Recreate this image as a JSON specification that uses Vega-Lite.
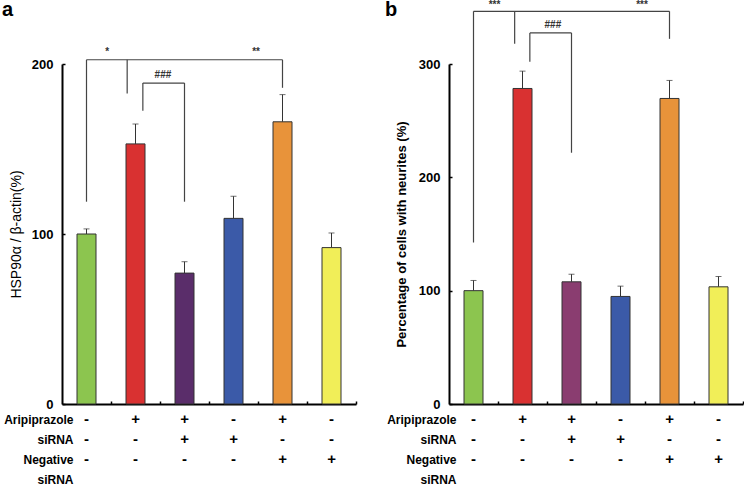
{
  "$schema": "https://vega.github.io/schema/vega-lite/v6.json",
  "padding": {"left": 2, "top": 0, "right": 0, "bottom": 0},
  "background": "white",
  "config": {"font": "Liberation Sans", "view": {"stroke": null}},
  "datasets": {
    "barsA": [
      {"pos": 1, "v": 100, "e": 103},
      {"pos": 2, "v": 153, "e": 164.7},
      {"pos": 3, "v": 77, "e": 83.7},
      {"pos": 4, "v": 109.2, "e": 122.2},
      {"pos": 5, "v": 166, "e": 182},
      {"pos": 6, "v": 92, "e": 100.6}
    ],
    "barsB": [
      {"pos": 1, "v": 100, "e": 109},
      {"pos": 2, "v": 278.4, "e": 293.7},
      {"pos": 3, "v": 107.8, "e": 114.5},
      {"pos": 4, "v": 94.9, "e": 104},
      {"pos": 5, "v": 269.6, "e": 285.5},
      {"pos": 6, "v": 103.4, "e": 112.5}
    ],
    "brA": [
      {"x1": 1, "x2": 5, "y1": 202.5, "y2": 202.5},
      {"x1": 1, "x2": 1, "y1": 119, "y2": 202.5},
      {"x1": 1.83, "x2": 1.83, "y1": 182.7, "y2": 202.5},
      {"x1": 5, "x2": 5, "y1": 186, "y2": 202.5},
      {"x1": 2.15, "x2": 3, "y1": 188.8, "y2": 188.8},
      {"x1": 2.15, "x2": 2.15, "y1": 172.5, "y2": 188.8},
      {"x1": 3, "x2": 3, "y1": 119, "y2": 188.8}
    ],
    "brB": [
      {"x1": 1, "x2": 5, "y1": 346.5, "y2": 346.5},
      {"x1": 1, "x2": 1, "y1": 142.5, "y2": 346.5},
      {"x1": 1.84, "x2": 1.84, "y1": 317.8, "y2": 346.5},
      {"x1": 5, "x2": 5, "y1": 322.2, "y2": 346.5},
      {"x1": 2.15, "x2": 3, "y1": 327.4, "y2": 327.4},
      {"x1": 2.15, "x2": 2.15, "y1": 302, "y2": 327.4},
      {"x1": 3, "x2": 3, "y1": 221.7, "y2": 327.4}
    ],
    "labA": [
      {"x": 1.42, "y": 207, "t": "*"},
      {"x": 4.46, "y": 207, "t": "**"},
      {"x": 2.56, "y": 193.5, "t": "###"}
    ],
    "labB": [
      {"x": 1.43, "y": 352, "t": "***"},
      {"x": 4.44, "y": 352, "t": "***"},
      {"x": 2.62, "y": 334, "t": "###"}
    ],
    "signs": [
      {"pos": 1, "row": "Aripiprazole", "s": "-"},
      {"pos": 2, "row": "Aripiprazole", "s": "+"},
      {"pos": 3, "row": "Aripiprazole", "s": "+"},
      {"pos": 4, "row": "Aripiprazole", "s": "-"},
      {"pos": 5, "row": "Aripiprazole", "s": "+"},
      {"pos": 6, "row": "Aripiprazole", "s": "-"},
      {"pos": 1, "row": "siRNA", "s": "-"},
      {"pos": 2, "row": "siRNA", "s": "-"},
      {"pos": 3, "row": "siRNA", "s": "+"},
      {"pos": 4, "row": "siRNA", "s": "+"},
      {"pos": 5, "row": "siRNA", "s": "-"},
      {"pos": 6, "row": "siRNA", "s": "-"},
      {"pos": 1, "row": "Negative", "s": "-"},
      {"pos": 2, "row": "Negative", "s": "-"},
      {"pos": 3, "row": "Negative", "s": "-"},
      {"pos": 4, "row": "Negative", "s": "-"},
      {"pos": 5, "row": "Negative", "s": "+"},
      {"pos": 6, "row": "Negative", "s": "+"}
    ]
  },
  "columns": 2,
  "spacing": {"row": 15, "column": 93},
  "bounds": "flush",
  "resolve": {"scale": {"color": "independent", "x": "independent", "y": "independent"}},
  "concat": [
    {
      "width": 294,
      "height": 340,
      "title": {"text": "a", "anchor": "start", "frame": "group", "dx": -60, "offset": 11, "baseline": "alphabetic", "fontSize": 20, "fontWeight": "bold", "color": "#000"},
      "layer": [
        {
          "data": {"name": "barsA"},
          "mark": {"type": "rule", "color": "#333", "strokeWidth": 1},
          "encoding": {
            "x": {"field": "pos", "type": "quantitative", "scale": {"domain": [0.5, 6.5], "nice": false, "zero": false, "padding": 0},
              "axis": {"title": null, "values": [1.5, 2.5, 3.5, 4.5, 5.5, 6.5], "labels": false, "grid": false, "domainColor": "#000", "domainWidth": 2, "tickColor": "#000", "tickSize": -3, "tickWidth": 1.5}},
            "y": {"field": "v", "type": "quantitative", "scale": {"domain": [0, 200], "nice": false},
              "axis": {"title": "HSP90α / β-actin(%)", "values": [0, 100, 200], "grid": false, "domainColor": "#000", "domainWidth": 2, "tickColor": "#000", "tickSize": -3, "tickWidth": 1.5, "labelFontSize": 13, "labelFontWeight": "bold", "labelColor": "#000", "labelPadding": 12, "titleFontSize": 14, "titleFontWeight": "normal", "titleColor": "#000", "titlePadding": 8}},
            "y2": {"field": "e"}
          }
        },
        {
          "data": {"name": "barsA"},
          "mark": {"type": "tick", "orient": "horizontal", "size": 6, "thickness": 1, "color": "#333"},
          "encoding": {
            "x": {"field": "pos", "type": "quantitative"},
            "y": {"field": "e", "type": "quantitative"}
          }
        },
        {
          "data": {"name": "barsA"},
          "mark": {"type": "bar", "orient": "vertical", "size": 19, "stroke": "#333", "strokeWidth": 1},
          "encoding": {
            "x": {"field": "pos", "type": "quantitative"},
            "y": {"field": "v", "type": "quantitative"},
            "color": {"field": "pos", "type": "nominal", "legend": null,
              "scale": {"domain": [1, 2, 3, 4, 5, 6], "range": ["#8cc54f", "#d93131", "#5a2d6a", "#3b5aa8", "#e8933a", "#f1ee58"]}}
          }
        },
        {
          "data": {"name": "brA"},
          "mark": {"type": "rule", "color": "#444", "strokeWidth": 1.2},
          "encoding": {
            "x": {"field": "x1", "type": "quantitative"},
            "x2": {"field": "x2"},
            "y": {"field": "y1", "type": "quantitative"},
            "y2": {"field": "y2"}
          }
        },
        {
          "data": {"name": "labA"},
          "mark": {"type": "text", "fontSize": 10, "fontWeight": "bold", "color": "#333"},
          "encoding": {
            "x": {"field": "x", "type": "quantitative"},
            "y": {"field": "y", "type": "quantitative"},
            "text": {"field": "t"}
          }
        }
      ]
    },
    {
      "width": 294,
      "height": 340,
      "title": {"text": "b", "anchor": "start", "frame": "group", "dx": -64, "offset": -36, "baseline": "alphabetic", "fontSize": 20, "fontWeight": "bold", "color": "#000"},
      "layer": [
        {
          "data": {"name": "barsB"},
          "mark": {"type": "rule", "color": "#333", "strokeWidth": 1},
          "encoding": {
            "x": {"field": "pos", "type": "quantitative", "scale": {"domain": [0.5, 6.5], "nice": false, "zero": false, "padding": 0},
              "axis": {"title": null, "values": [1.5, 2.5, 3.5, 4.5, 5.5, 6.5], "labels": false, "grid": false, "domainColor": "#000", "domainWidth": 2, "tickColor": "#000", "tickSize": -3, "tickWidth": 1.5}},
            "y": {"field": "v", "type": "quantitative", "scale": {"domain": [0, 300], "nice": false},
              "axis": {"title": "Percentage of cells with neurites (%)", "values": [0, 100, 200, 300], "grid": false, "domainColor": "#000", "domainWidth": 2, "tickColor": "#000", "tickSize": -3, "tickWidth": 1.5, "labelFontSize": 13, "labelFontWeight": "bold", "labelColor": "#000", "labelPadding": 12, "titleFontSize": 13, "titleFontWeight": "bold", "titleColor": "#000", "titlePadding": 10}},
            "y2": {"field": "e"}
          }
        },
        {
          "data": {"name": "barsB"},
          "mark": {"type": "tick", "orient": "horizontal", "size": 6, "thickness": 1, "color": "#333"},
          "encoding": {
            "x": {"field": "pos", "type": "quantitative"},
            "y": {"field": "e", "type": "quantitative"}
          }
        },
        {
          "data": {"name": "barsB"},
          "mark": {"type": "bar", "orient": "vertical", "size": 19, "stroke": "#333", "strokeWidth": 1},
          "encoding": {
            "x": {"field": "pos", "type": "quantitative"},
            "y": {"field": "v", "type": "quantitative"},
            "color": {"field": "pos", "type": "nominal", "legend": null,
              "scale": {"domain": [1, 2, 3, 4, 5, 6], "range": ["#8cc54f", "#d93131", "#8a3d70", "#3b5aa8", "#e8933a", "#f1ee58"]}}
          }
        },
        {
          "data": {"name": "brB"},
          "mark": {"type": "rule", "color": "#444", "strokeWidth": 1.2},
          "encoding": {
            "x": {"field": "x1", "type": "quantitative"},
            "x2": {"field": "x2"},
            "y": {"field": "y1", "type": "quantitative"},
            "y2": {"field": "y2"}
          }
        },
        {
          "data": {"name": "labB"},
          "mark": {"type": "text", "fontSize": 10, "fontWeight": "bold", "color": "#333"},
          "encoding": {
            "x": {"field": "x", "type": "quantitative"},
            "y": {"field": "y", "type": "quantitative"},
            "text": {"field": "t"}
          }
        }
      ]
    },
    {
      "width": 294,
      "height": 60,
      "data": {"name": "signs"},
      "mark": {"type": "text", "fontSize": 15, "fontWeight": "bold", "color": "#000"},
      "encoding": {
        "x": {"field": "pos", "type": "quantitative", "scale": {"domain": [0.5, 6.5], "nice": false, "zero": false, "padding": 0}, "axis": null},
        "y": {"field": "row", "type": "ordinal", "scale": {"type": "point", "domain": ["Aripiprazole", "siRNA", "Negative", "siRNA2"], "padding": 0},
          "axis": {"title": null, "domain": false, "ticks": false, "labelExpr": "replace(datum.value, '2', '')", "labelFontSize": 12, "labelFontWeight": "bold", "labelColor": "#000", "labelPadding": -11}},
        "text": {"field": "s"}
      }
    },
    {
      "width": 294,
      "height": 60,
      "data": {"name": "signs"},
      "mark": {"type": "text", "fontSize": 15, "fontWeight": "bold", "color": "#000"},
      "encoding": {
        "x": {"field": "pos", "type": "quantitative", "scale": {"domain": [0.5, 6.5], "nice": false, "zero": false, "padding": 0}, "axis": null},
        "y": {"field": "row", "type": "ordinal", "scale": {"type": "point", "domain": ["Aripiprazole", "siRNA", "Negative", "siRNA2"], "padding": 0},
          "axis": {"title": null, "domain": false, "ticks": false, "labelExpr": "replace(datum.value, '2', '')", "labelFontSize": 12, "labelFontWeight": "bold", "labelColor": "#000", "labelPadding": -7}},
        "text": {"field": "s"}
      }
    }
  ]
}
